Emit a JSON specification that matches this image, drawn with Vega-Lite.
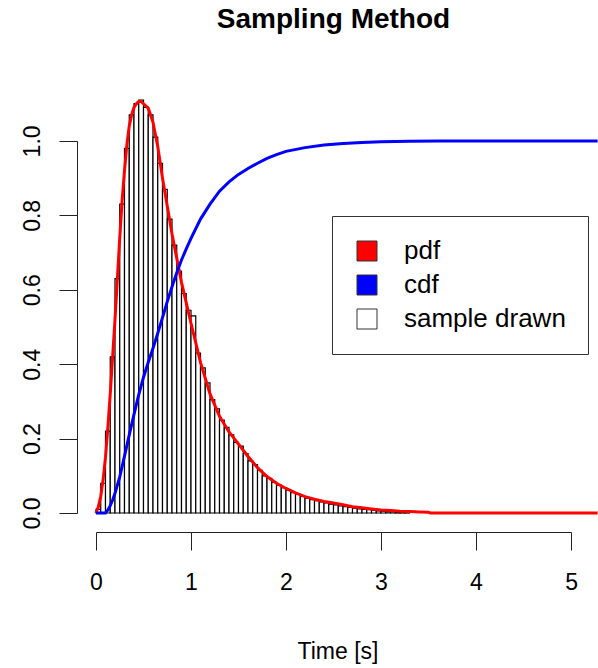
{
  "$schema": "https://vega.github.io/schema/vega-lite/v6.json",
  "autosize": {"type": "none"},
  "width": 521,
  "height": 448,
  "padding": {"left": 77, "top": 84, "right": 0, "bottom": 136},
  "background": "white",
  "title": {"text": "Sampling Method", "fontSize": 28, "font": "Liberation Sans", "fontWeight": "bold", "color": "black", "anchor": "middle", "offset": 50, "dx": -4},
  "config": {
    "view": {"stroke": null},
    "font": "Liberation Sans",
    "legend": {
      "orient": "none", "legendX": 255, "legendY": 132, "title": null,
      "symbolType": "square", "symbolSize": 400, "symbolStrokeColor": "#333", "symbolStrokeWidth": 1,
      "labelFontSize": 26, "labelColor": "black", "labelFont": "Liberation Sans", "labelOffset": 24, "rowPadding": 8,
      "padding": 22, "strokeColor": "#333", "strokeWidth": 1, "fillColor": "white", "cornerRadius": 0, "labelLimit": 400
    }
  },
  "datasets": {
    "hist": [
      {"x": 0.00, "x2": 0.05, "y": 0.01, "series": "sample drawn"},
      {"x": 0.05, "x2": 0.10, "y": 0.08, "series": "sample drawn"},
      {"x": 0.10, "x2": 0.15, "y": 0.22, "series": "sample drawn"},
      {"x": 0.15, "x2": 0.20, "y": 0.42, "series": "sample drawn"},
      {"x": 0.20, "x2": 0.25, "y": 0.63, "series": "sample drawn"},
      {"x": 0.25, "x2": 0.30, "y": 0.83, "series": "sample drawn"},
      {"x": 0.30, "x2": 0.35, "y": 0.98, "series": "sample drawn"},
      {"x": 0.35, "x2": 0.40, "y": 1.07, "series": "sample drawn"},
      {"x": 0.40, "x2": 0.45, "y": 1.10, "series": "sample drawn"},
      {"x": 0.45, "x2": 0.50, "y": 1.11, "series": "sample drawn"},
      {"x": 0.50, "x2": 0.55, "y": 1.09, "series": "sample drawn"},
      {"x": 0.55, "x2": 0.60, "y": 1.07, "series": "sample drawn"},
      {"x": 0.60, "x2": 0.65, "y": 1.01, "series": "sample drawn"},
      {"x": 0.65, "x2": 0.70, "y": 0.94, "series": "sample drawn"},
      {"x": 0.70, "x2": 0.75, "y": 0.87, "series": "sample drawn"},
      {"x": 0.75, "x2": 0.80, "y": 0.79, "series": "sample drawn"},
      {"x": 0.80, "x2": 0.85, "y": 0.72, "series": "sample drawn"},
      {"x": 0.85, "x2": 0.90, "y": 0.65, "series": "sample drawn"},
      {"x": 0.90, "x2": 0.95, "y": 0.59, "series": "sample drawn"},
      {"x": 0.95, "x2": 1.00, "y": 0.545, "series": "sample drawn"},
      {"x": 1.00, "x2": 1.05, "y": 0.53, "series": "sample drawn"},
      {"x": 1.05, "x2": 1.10, "y": 0.43, "series": "sample drawn"},
      {"x": 1.10, "x2": 1.15, "y": 0.39, "series": "sample drawn"},
      {"x": 1.15, "x2": 1.20, "y": 0.35, "series": "sample drawn"},
      {"x": 1.20, "x2": 1.25, "y": 0.305, "series": "sample drawn"},
      {"x": 1.25, "x2": 1.30, "y": 0.28, "series": "sample drawn"},
      {"x": 1.30, "x2": 1.35, "y": 0.25, "series": "sample drawn"},
      {"x": 1.35, "x2": 1.40, "y": 0.23, "series": "sample drawn"},
      {"x": 1.40, "x2": 1.45, "y": 0.21, "series": "sample drawn"},
      {"x": 1.45, "x2": 1.50, "y": 0.19, "series": "sample drawn"},
      {"x": 1.50, "x2": 1.55, "y": 0.18, "series": "sample drawn"},
      {"x": 1.55, "x2": 1.60, "y": 0.16, "series": "sample drawn"},
      {"x": 1.60, "x2": 1.65, "y": 0.14, "series": "sample drawn"},
      {"x": 1.65, "x2": 1.70, "y": 0.13, "series": "sample drawn"},
      {"x": 1.70, "x2": 1.75, "y": 0.115, "series": "sample drawn"},
      {"x": 1.75, "x2": 1.80, "y": 0.10, "series": "sample drawn"},
      {"x": 1.80, "x2": 1.85, "y": 0.093, "series": "sample drawn"},
      {"x": 1.85, "x2": 1.90, "y": 0.083, "series": "sample drawn"},
      {"x": 1.90, "x2": 1.95, "y": 0.075, "series": "sample drawn"},
      {"x": 1.95, "x2": 2.00, "y": 0.068, "series": "sample drawn"},
      {"x": 2.00, "x2": 2.05, "y": 0.062, "series": "sample drawn"},
      {"x": 2.05, "x2": 2.10, "y": 0.055, "series": "sample drawn"},
      {"x": 2.10, "x2": 2.15, "y": 0.05, "series": "sample drawn"},
      {"x": 2.15, "x2": 2.20, "y": 0.045, "series": "sample drawn"},
      {"x": 2.20, "x2": 2.25, "y": 0.04, "series": "sample drawn"},
      {"x": 2.25, "x2": 2.30, "y": 0.036, "series": "sample drawn"},
      {"x": 2.30, "x2": 2.35, "y": 0.033, "series": "sample drawn"},
      {"x": 2.35, "x2": 2.40, "y": 0.03, "series": "sample drawn"},
      {"x": 2.40, "x2": 2.45, "y": 0.027, "series": "sample drawn"},
      {"x": 2.45, "x2": 2.50, "y": 0.024, "series": "sample drawn"},
      {"x": 2.50, "x2": 2.55, "y": 0.022, "series": "sample drawn"},
      {"x": 2.55, "x2": 2.60, "y": 0.019, "series": "sample drawn"},
      {"x": 2.60, "x2": 2.65, "y": 0.017, "series": "sample drawn"},
      {"x": 2.65, "x2": 2.70, "y": 0.015, "series": "sample drawn"},
      {"x": 2.70, "x2": 2.75, "y": 0.013, "series": "sample drawn"},
      {"x": 2.75, "x2": 2.80, "y": 0.011, "series": "sample drawn"},
      {"x": 2.80, "x2": 2.85, "y": 0.010, "series": "sample drawn"},
      {"x": 2.85, "x2": 2.90, "y": 0.009, "series": "sample drawn"},
      {"x": 2.90, "x2": 2.95, "y": 0.008, "series": "sample drawn"},
      {"x": 2.95, "x2": 3.00, "y": 0.006, "series": "sample drawn"},
      {"x": 3.00, "x2": 3.05, "y": 0.005, "series": "sample drawn"},
      {"x": 3.05, "x2": 3.10, "y": 0.004, "series": "sample drawn"},
      {"x": 3.10, "x2": 3.15, "y": 0.004, "series": "sample drawn"},
      {"x": 3.15, "x2": 3.20, "y": 0.003, "series": "sample drawn"},
      {"x": 3.20, "x2": 3.25, "y": 0.002, "series": "sample drawn"},
      {"x": 3.25, "x2": 3.30, "y": 0.002, "series": "sample drawn"}
    ],
    "pdf": [
      {"x": 0, "y": 0}, {"x": 0.025, "y": 0.017}, {"x": 0.05, "y": 0.045}, {"x": 0.075, "y": 0.09},
      {"x": 0.1, "y": 0.15}, {"x": 0.125, "y": 0.23}, {"x": 0.15, "y": 0.32}, {"x": 0.175, "y": 0.42},
      {"x": 0.2, "y": 0.52}, {"x": 0.225, "y": 0.63}, {"x": 0.25, "y": 0.74}, {"x": 0.275, "y": 0.84},
      {"x": 0.3, "y": 0.92}, {"x": 0.325, "y": 0.99}, {"x": 0.35, "y": 1.04}, {"x": 0.375, "y": 1.07},
      {"x": 0.4, "y": 1.09}, {"x": 0.425, "y": 1.1}, {"x": 0.45, "y": 1.106}, {"x": 0.475, "y": 1.106},
      {"x": 0.5, "y": 1.1}, {"x": 0.55, "y": 1.088}, {"x": 0.6, "y": 1.05}, {"x": 0.65, "y": 0.985},
      {"x": 0.7, "y": 0.9}, {"x": 0.75, "y": 0.825}, {"x": 0.8, "y": 0.75}, {"x": 0.85, "y": 0.685},
      {"x": 0.9, "y": 0.62}, {"x": 0.95, "y": 0.565}, {"x": 1.0, "y": 0.51}, {"x": 1.1, "y": 0.405},
      {"x": 1.2, "y": 0.32}, {"x": 1.3, "y": 0.26}, {"x": 1.4, "y": 0.218}, {"x": 1.5, "y": 0.185},
      {"x": 1.6, "y": 0.152}, {"x": 1.7, "y": 0.122}, {"x": 1.8, "y": 0.098}, {"x": 1.9, "y": 0.08},
      {"x": 2.0, "y": 0.066}, {"x": 2.1, "y": 0.054}, {"x": 2.2, "y": 0.044}, {"x": 2.3, "y": 0.037},
      {"x": 2.4, "y": 0.031}, {"x": 2.5, "y": 0.027}, {"x": 2.6, "y": 0.022}, {"x": 2.7, "y": 0.017},
      {"x": 2.8, "y": 0.014}, {"x": 2.9, "y": 0.011}, {"x": 3.0, "y": 0.008}, {"x": 3.1, "y": 0.007},
      {"x": 3.2, "y": 0.005}, {"x": 3.3, "y": 0.004}, {"x": 3.4, "y": 0.003}, {"x": 3.5, "y": 0.002},
      {"x": 3.52, "y": 0}, {"x": 5.28, "y": 0}
    ],
    "cdf": [
      {"x": 0, "y": 0}, {"x": 0.1, "y": 0}, {"x": 0.125, "y": 0.008}, {"x": 0.15, "y": 0.02},
      {"x": 0.175, "y": 0.035}, {"x": 0.2, "y": 0.053}, {"x": 0.25, "y": 0.097}, {"x": 0.3, "y": 0.153},
      {"x": 0.35, "y": 0.21}, {"x": 0.4, "y": 0.265}, {"x": 0.45, "y": 0.318}, {"x": 0.5, "y": 0.365},
      {"x": 0.55, "y": 0.405}, {"x": 0.6, "y": 0.443}, {"x": 0.65, "y": 0.483}, {"x": 0.7, "y": 0.525},
      {"x": 0.75, "y": 0.568}, {"x": 0.8, "y": 0.608}, {"x": 0.85, "y": 0.646}, {"x": 0.9, "y": 0.68},
      {"x": 0.95, "y": 0.71}, {"x": 1.0, "y": 0.738}, {"x": 1.1, "y": 0.79}, {"x": 1.2, "y": 0.83},
      {"x": 1.3, "y": 0.865}, {"x": 1.4, "y": 0.89}, {"x": 1.5, "y": 0.91}, {"x": 1.6, "y": 0.926},
      {"x": 1.7, "y": 0.94}, {"x": 1.8, "y": 0.953}, {"x": 1.9, "y": 0.963}, {"x": 2.0, "y": 0.972},
      {"x": 2.2, "y": 0.982}, {"x": 2.4, "y": 0.989}, {"x": 2.6, "y": 0.993}, {"x": 2.8, "y": 0.996},
      {"x": 3.0, "y": 0.998}, {"x": 3.3, "y": 0.999}, {"x": 3.6, "y": 1.0}, {"x": 5.28, "y": 1.0}
    ]
  },
  "encoding": {
    "x": {
      "field": "x", "type": "quantitative",
      "scale": {"domain": [-0.2, 5.284], "nice": false, "zero": false},
      "axis": {
        "title": "Time [s]", "values": [0, 1, 2, 3, 4, 5], "format": "d", "grid": false,
        "labelFontSize": 23, "labelColor": "black", "labelFont": "Liberation Sans", "labelPadding": 21,
        "titleFontSize": 23, "titleFontWeight": "normal", "titleColor": "black", "titleFont": "Liberation Sans", "titlePadding": 46,
        "tickSize": 18, "tickColor": "#222", "domainColor": "#222", "domainDash": [0, 19, 475, 2000]
      }
    },
    "y": {
      "field": "y", "type": "quantitative",
      "scale": {"domain": [-0.051, 1.153], "nice": false, "zero": false},
      "axis": {
        "title": null, "values": [0, 0.2, 0.4, 0.6, 0.8, 1.0], "format": ".1f", "grid": false,
        "labelAngle": 270, "labelAlign": "center", "labelBaseline": "bottom",
        "labelFontSize": 23, "labelColor": "black", "labelFont": "Liberation Sans", "labelPadding": 15,
        "tickSize": 18, "tickColor": "#222", "domainColor": "#222", "domainDash": [0, 19, 372.1, 2000]
      }
    }
  },
  "layer": [
    {
      "data": {"name": "hist"},
      "mark": {"type": "bar", "stroke": "black", "strokeWidth": 1.2},
      "encoding": {
        "x2": {"field": "x2"},
        "y2": {"datum": 0},
        "fill": {
          "field": "series", "type": "nominal",
          "scale": {"domain": ["pdf", "cdf", "sample drawn"], "range": ["#FF0000", "#0000FF", "#FFFFFF"]}
        }
      }
    },
    {
      "data": {"name": "pdf"},
      "mark": {"type": "line", "color": "#FF0000", "strokeWidth": 3},
      "encoding": {}
    },
    {
      "data": {"name": "cdf"},
      "mark": {"type": "line", "color": "#0000FF", "strokeWidth": 3},
      "encoding": {}
    }
  ]
}
